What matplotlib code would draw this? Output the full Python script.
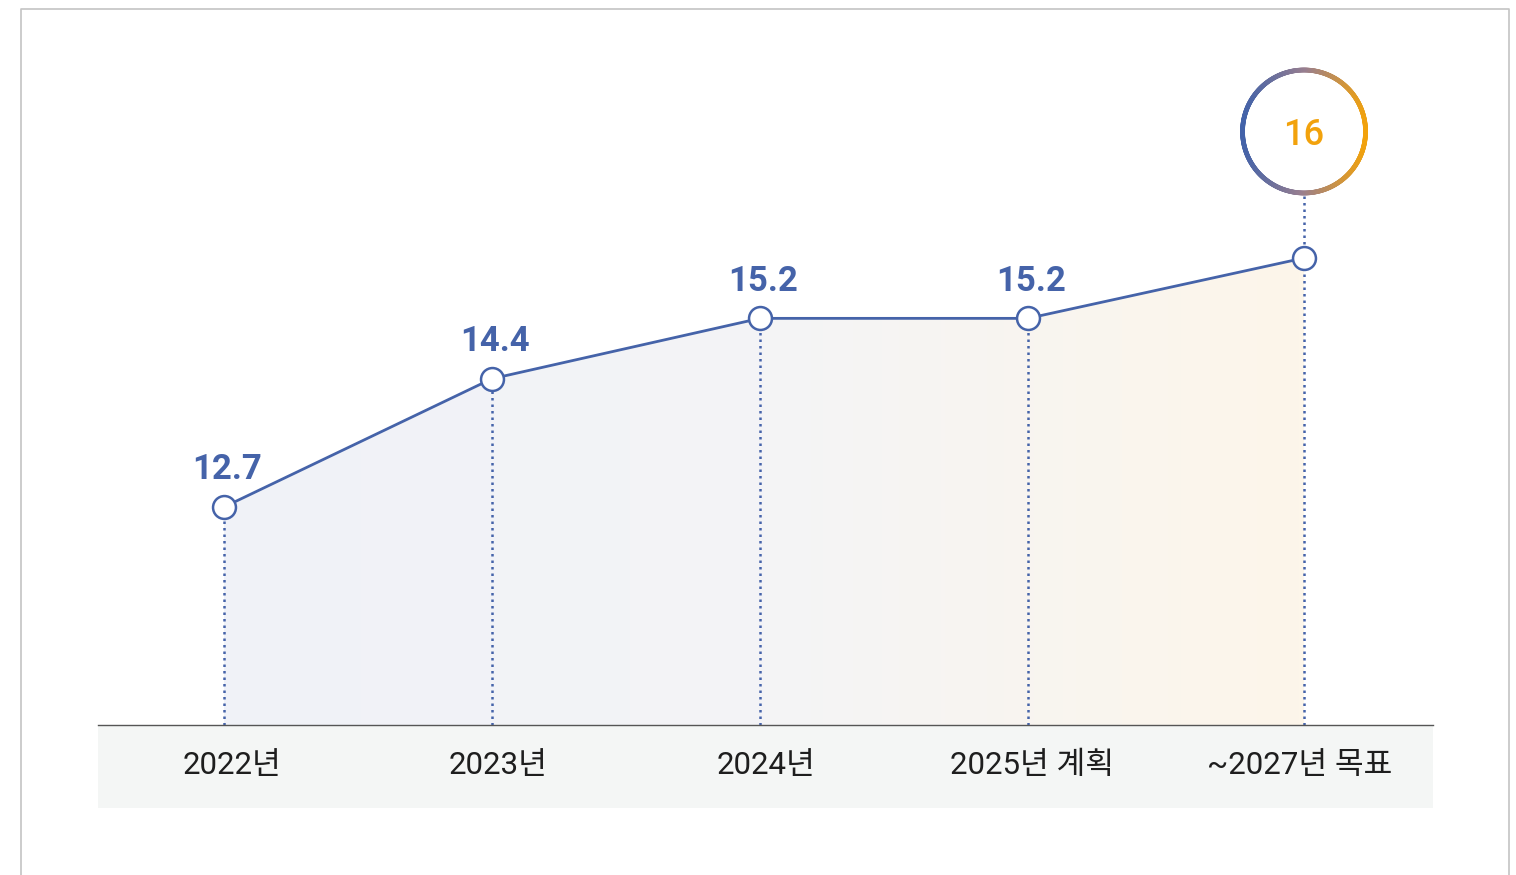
import numpy as np
import matplotlib
matplotlib.use("Agg")
import matplotlib.pyplot as plt
from matplotlib.patches import Rectangle, Polygon
from matplotlib.collections import LineCollection
from matplotlib.colors import LinearSegmentedColormap

plt.rcParams['font.family'] = ['Roboto', 'Noto Sans CJK KR', 'DejaVu Sans']

# data
categories = ['2022년', '2023년', '2024년', '2025년 계획', '~2027년 목표']
values = [12.7, 14.4, 15.2, 15.2, 16]
value_labels = ['12.7', '14.4', '15.2', '15.2', '16']

# layout
x_pos = [0, 1, 2, 3, 4.03]
BLUE = '#4563a9'
ORANGE = '#f2a20c'
W, H = 1516, 875

fig = plt.figure(figsize=(W / 100, H / 100), dpi=100)
fig.patch.set_facecolor('white')

# outer frame (open at the bottom)
frame = fig.add_axes([0, 0, 1, 1], zorder=-5)
frame.set_xlim(0, W)
frame.set_ylim(H, 0)
frame.axis('off')
frame.plot([20.5, 20.5, 1508.5, 1508.5], [H + 5, 8.5, 8.5, H + 5], color='#c4c4c4', lw=1.2)

# main plotting area
base_px, top_px, left_px, right_px = 725, 20, 98, 1433
px_per_unit = 75.45
ymin = 16 - (base_px - 258) / px_per_unit
ymax = ymin + (base_px - top_px) / px_per_unit
ax = fig.add_axes([left_px / W, 1 - base_px / H, (right_px - left_px) / W, (base_px - top_px) / H])
ax.set_xlim(-(224 - left_px) / 268, (right_px - 224) / 268)
ax.set_ylim(ymin, ymax)
ax.patch.set_alpha(0)
for s in ['top', 'left', 'right']:
    ax.spines[s].set_visible(False)
ax.spines['bottom'].set_color('#555555')
ax.spines['bottom'].set_linewidth(1.0)
ax.spines['bottom'].set_zorder(6)
ax.set_xticks([])
ax.set_yticks([])

# category band below the axis
band_h = (808 - base_px) / (base_px - top_px)
ax.add_patch(Rectangle((0, -band_h), 1, band_h, transform=ax.transAxes,
                       facecolor='#f4f6f5', edgecolor='none', clip_on=False, zorder=0))
for i, cat in enumerate(categories):
    ax.text((i + 0.5) / len(categories), -(766 - base_px) / (base_px - top_px), cat,
            transform=ax.transAxes, ha='center', va='center', fontsize=22.5,
            color='#1e1e1e', zorder=7)

# gradient fill under the line
poly_xy = [(x_pos[0], ymin)] + list(zip(x_pos, values)) + [(x_pos[-1], ymin)]
clip = Polygon(poly_xy, closed=True, facecolor='none', edgecolor='none')
ax.add_patch(clip)
fill_cmap = LinearSegmentedColormap.from_list('fill', ['#f0f2f8', '#f4f4f6', '#fdf6ea'])
grad = np.linspace(0, 1, 256).reshape(1, -1)
im = ax.imshow(grad, cmap=fill_cmap, aspect='auto', extent=[x_pos[0], x_pos[-1], ymin, max(values)],
               origin='lower', zorder=1, interpolation='bicubic')
im.set_clip_path(clip)

# dotted guides
DOT = (0, (1, 1.6))
for x, v in zip(x_pos, values):
    ax.plot([x, x], [ymin, v], color=BLUE, lw=1.8, ls=DOT, zorder=2)

# line and markers
ax.plot(x_pos, values, color=BLUE, lw=2.0, zorder=3)
ax.plot(x_pos, values, 'o', ms=16.5, mfc='white', mec=BLUE, mew=1.8, zorder=5)

# value labels
for x, v, lab in zip(x_pos[:-1], values[:-1], value_labels[:-1]):
    ax.annotate(lab, (x, v), xytext=(2, 20), textcoords='offset points', ha='center',
                va='baseline', fontsize=25, fontweight='semibold', color=BLUE, zorder=6)

# goal badge with gradient ring above the last point
fig.canvas.draw()
cx, cy = ax.transData.transform((x_pos[-1], values[-1]))
cy += 126.5
r = 61.5
t = np.linspace(0, 2 * np.pi, 721)
px = cx + r * np.cos(t)
py = cy + r * np.sin(t)
segs = np.stack([np.column_stack([px[:-1], py[:-1]]), np.column_stack([px[1:], py[1:]])], axis=1)
ring_cmap = LinearSegmentedColormap.from_list('ring', ['#4262a9', '#9a7f8f', '#f2a20c'])
frac = (0.5 * (px[:-1] + px[1:]) - (cx - r)) / (2 * r)
ring = LineCollection(segs, colors=ring_cmap(frac), linewidths=3.4, transform=None,
                      capstyle='round', zorder=6)
ax.add_collection(ring)
# guide from badge to point
gy0 = cy - r - 3
gy1 = ax.transData.transform((x_pos[-1], values[-1]))[1] + 12
ax.plot([cx, cx], [gy0, gy1], color=BLUE, lw=1.8, ls=DOT, transform=None, zorder=2)
ax.text(cx, cy, value_labels[-1], transform=None, ha='center', va='center_baseline',
        fontsize=26, color=ORANGE, fontweight='medium', zorder=7)

fig.savefig('out.png', dpi=100)
